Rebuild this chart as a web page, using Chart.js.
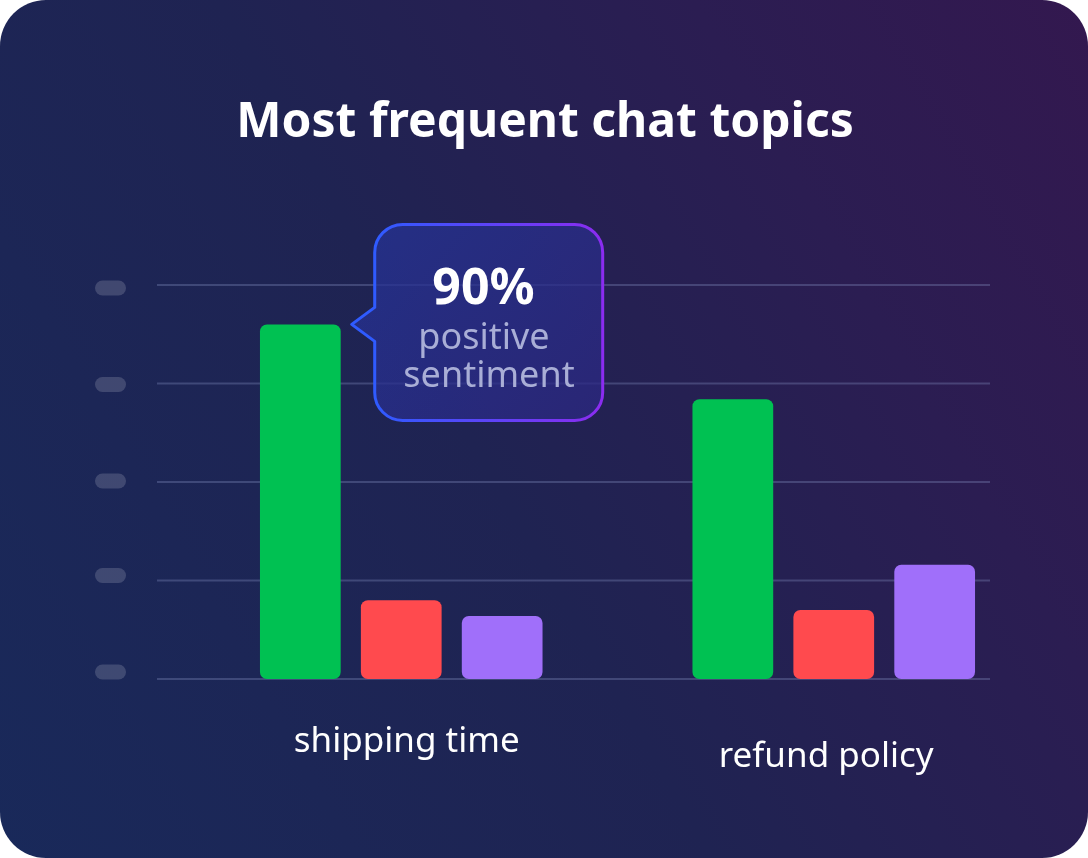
<!DOCTYPE html>
<html>
<head>
<meta charset="utf-8">
<script src="https://cdn.jsdelivr.net/npm/chart.js@4"></script>
<style>
  html, body { margin: 0; padding: 0; background: #ffffff; }
  .card {
    position: relative;
    width: 1088px;
    height: 858px;
    border-radius: 46px;
    overflow: hidden;
    background: linear-gradient(60deg, #19295a 0%, #1f2352 45%, #2b1d52 75%, #33184f 100%);
  }
  canvas { display: block; }
</style>
</head>
<body>
<div class="card">
  <canvas id="topicsChart" width="1088" height="858"></canvas>
</div>
<script>
const chartTitle = 'Most frequent chat topics';
const topics = ['shipping time', 'refund policy'];
const positive = [90, 71];
const negative = [20, 17.5];
const neutral = [16, 29];
const yTicks = [0, 25, 50, 75, 100];

// title centred on the whole card, not the plot area
const cardTitle = {
    id: 'cardTitle',
    afterDraw(chart) {
        const { ctx } = chart;
        ctx.save();
        ctx.font = 'bold 48px "Noto Sans"';
        ctx.fillStyle = '#ffffff';
        ctx.textAlign = 'center';
        ctx.textBaseline = 'alphabetic';
        ctx.fillText(chartTitle, 545, 137);
        ctx.restore();
    }
};

// grid lines + pill placeholders instead of tick text
const gridPills = {
    id: 'gridPills',
    beforeDatasetsDraw(chart) {
        const { ctx } = chart;
        const y = chart.scales.y;
        const pillShift = { 0: -7, 25: -5, 50: -1, 75: 1, 100: 3 };
        ctx.save();
        yTicks.forEach(t => {
            const py = y.getPixelForValue(t);
            ctx.strokeStyle = 'rgba(130, 140, 190, 0.35)';
            ctx.lineWidth = 2;
            ctx.beginPath();
            ctx.moveTo(157, py);
            ctx.lineTo(990, py);
            ctx.stroke();

            const cy = py + pillShift[t];
            ctx.fillStyle = 'rgba(255, 255, 255, 0.16)';
            ctx.beginPath();
            ctx.roundRect(95, cy - 7.5, 31, 15, 7.5);
            ctx.fill();
        });
        ctx.restore();
    }
};

// category labels under each group
const groupLabels = {
    id: 'groupLabels',
    afterDatasetsDraw(chart) {
        const { ctx } = chart;
        const x = chart.scales.x;
        const shifts = [[5.5, 752], [-7.5, 767]];
        ctx.save();
        ctx.font = '35px "Noto Sans"';
        ctx.fillStyle = '#ffffff';
        ctx.textAlign = 'center';
        ctx.textBaseline = 'alphabetic';
        topics.forEach((t, i) => {
            ctx.fillText(t, x.getPixelForValue(i) + shifts[i][0], shifts[i][1]);
        });
        ctx.restore();
    }
};

// speech bubble next to the tallest bar
const callout = {
    id: 'callout',
    afterDatasetsDraw(chart) {
        const { ctx } = chart;
        const bar = chart.getDatasetMeta(0).data[0];
        const left = bar.x + bar.width / 2 + 34;
        const top = bar.y - 100;
        const w = 228, h = 196, r = 28;
        const tipX = bar.x + bar.width / 2 + 11;
        const tipY = bar.y;

        ctx.save();
        ctx.beginPath();
        ctx.moveTo(left + r, top);
        ctx.lineTo(left + w - r, top);
        ctx.arcTo(left + w, top, left + w, top + r, r);
        ctx.lineTo(left + w, top + h - r);
        ctx.arcTo(left + w, top + h, left + w - r, top + h, r);
        ctx.lineTo(left + r, top + h);
        ctx.arcTo(left, top + h, left, top + h - r, r);
        ctx.lineTo(left, tipY + 17);
        ctx.lineTo(tipX, tipY);
        ctx.lineTo(left, tipY - 17);
        ctx.lineTo(left, top + r);
        ctx.arcTo(left, top, left + r, top, r);
        ctx.closePath();

        const fill = ctx.createLinearGradient(left, top, left + w, top + h);
        fill.addColorStop(0, 'rgba(38, 52, 150, 0.75)');
        fill.addColorStop(1, 'rgba(45, 40, 130, 0.75)');
        ctx.fillStyle = fill;
        ctx.fill();

        const stroke = ctx.createLinearGradient(left, 0, left + w, 0);
        stroke.addColorStop(0, '#2f5bff');
        stroke.addColorStop(1, '#8b2cf0');
        ctx.strokeStyle = stroke;
        ctx.lineWidth = 3;
        ctx.lineJoin = 'round';
        ctx.stroke();

        ctx.textAlign = 'center';
        ctx.textBaseline = 'alphabetic';
        ctx.fillStyle = '#ffffff';
        ctx.font = 'bold 50px "Noto Sans"';
        ctx.fillText(positive[0] + '%', 483.5, top + 80);
        ctx.fillStyle = '#a9aed6';
        ctx.font = '36px "Noto Sans"';
        ctx.fillText('positive', 484, top + 125);
        ctx.fillText('sentiment', 489, top + 163);
        ctx.restore();
    }
};

new Chart(document.getElementById('topicsChart'), {
    type: 'bar',
    data: {
        labels: topics,
        datasets: [
            { label: 'positive', data: positive, backgroundColor: '#00c152' },
            { label: 'negative', data: negative, backgroundColor: '#ff4a4e' },
            { label: 'neutral', data: neutral, backgroundColor: '#a06ffa' }
        ]
    },
    options: {
        responsive: false,
        animation: false,
        layout: { padding: { top: 285, left: 185, right: 38, bottom: 179 } },
        datasets: {
            bar: {
                categoryPercentage: 0.7,
                barPercentage: 0.8,
                borderRadius: 7,
                borderSkipped: false
            }
        },
        scales: {
            x: { display: false },
            y: { display: false, min: 0, max: 100 }
        },
        plugins: {
            legend: { display: false },
            tooltip: { enabled: false },
            title: { display: false }
        }
    },
    plugins: [gridPills, groupLabels, callout, cardTitle]
});
</script>
</body>
</html>
